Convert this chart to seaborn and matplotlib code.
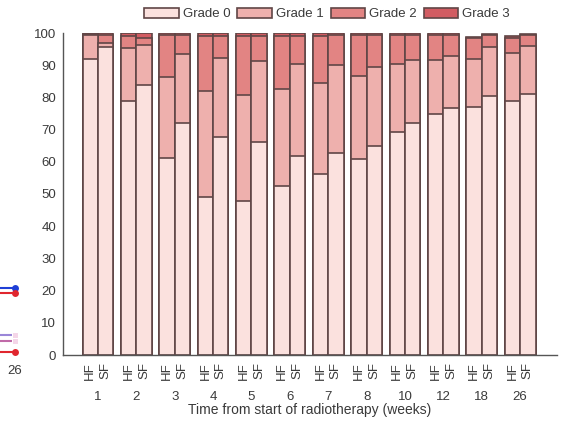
import matplotlib
matplotlib.use("Agg")
import matplotlib.pyplot as plt
import pandas as pd
import seaborn as sns
from matplotlib.patches import Patch

# Weeks from start of radiotherapy and treatment arms
weeks = ["1", "2", "3", "4", "5", "6", "7", "8", "10", "12", "18", "26"]
arms = ["HF", "SF"]
grades = ["Grade 0", "Grade 1", "Grade 2", "Grade 3"]

# Percentage of patients at each toxicity grade, hypofractionated arm
hf_g0 = [92.0, 79.0, 61.3, 49.2, 47.9, 52.4, 56.2, 60.8, 69.4, 74.7, 76.9, 78.8]
hf_g1 = [7.4, 16.2, 24.9, 32.8, 32.8, 30.1, 28.2, 26.0, 21.1, 17.0, 15.0, 15.1]
hf_g2 = [0.4, 3.8, 13.1, 17.2, 18.3, 16.7, 14.8, 12.5, 8.9, 7.7, 6.4, 4.7]
hf_g3 = [0.2, 1.0, 0.7, 0.8, 1.0, 0.8, 0.8, 0.7, 0.6, 0.6, 0.5, 0.5]

# Percentage of patients at each toxicity grade, standard fractionation arm
sf_g0 = [95.7, 84.0, 72.0, 67.8, 66.0, 61.8, 62.8, 64.8, 72.1, 76.6, 80.3, 81.0]
sf_g1 = [1.1, 12.3, 21.5, 24.3, 25.4, 28.5, 27.4, 24.7, 19.5, 16.2, 15.5, 15.0]
sf_g2 = [2.6, 2.0, 5.8, 7.1, 7.8, 8.9, 9.1, 9.8, 7.8, 6.6, 3.5, 3.3]
sf_g3 = [0.6, 1.7, 0.7, 0.8, 0.8, 0.8, 0.7, 0.7, 0.6, 0.6, 0.5, 0.5]

# Companion panel (partly visible at the left edge): last time points
side_x = [17.0, 26.0]
side_blue = [20.8, 20.8]
side_red = [19.3, 19.3]
side_lav_a = [6.2, 6.2]
side_lav_b = [4.3, 4.3]
side_red_b = [0.9, 0.9]

grade_colors = ["#fbe1de", "#eeb0ad", "#e28483", "#d25c62"]
edge_color = "#604646"
text_color = "#3a3a3a"

rows = []
for arm, series in (("HF", (hf_g0, hf_g1, hf_g2, hf_g3)),
                    ("SF", (sf_g0, sf_g1, sf_g2, sf_g3))):
    for i, wk in enumerate(weeks):
        cum = 0.0
        for g, vals in zip(grades, series):
            cum += vals[i]
            rows.append({"week": wk, "arm": arm, "grade": g, "cum": cum})
df = pd.DataFrame(rows)

sns.set_theme(style="white")
plt.rcParams["font.family"] = ["Liberation Sans", "DejaVu Sans"]
plt.rcParams["font.size"] = 9.5

W, H = 564, 424
fig = plt.figure(figsize=(W / 100, H / 100), dpi=100)
ax = fig.add_axes([63 / W, (H - 355) / H, 494 / W, 322 / H])

# Stacked bars: draw cumulative totals from the top grade down
for g, color in zip(grades[::-1], grade_colors[::-1]):
    sub = df[df["grade"] == g]
    sns.barplot(data=sub, x="week", y="cum", hue="arm", order=weeks,
                hue_order=arms, palette={"HF": color, "SF": color},
                dodge=True, width=0.8, saturation=1, errorbar=None,
                edgecolor=edge_color, linewidth=1.2, legend=False, ax=ax)

ax.set_xlim(-0.91, 11.96)
ax.set_ylim(0, 100)
ax.set_yticks(range(0, 101, 10))
ax.tick_params(axis="y", direction="in", length=4, width=1,
               color="#555555", labelcolor=text_color, labelsize=9.5, pad=5)

centers = list(range(len(weeks)))
bar_pos = [c + d for c in centers for d in (-0.2, 0.2)]
ax.set_xticks(bar_pos)
ax.set_xticklabels([a for _ in weeks for a in arms], rotation=90)
ax.set_xticks(centers, minor=True)
ax.set_xticklabels(weeks, minor=True)
ax.tick_params(axis="x", which="major", length=0, pad=5,
               labelcolor=text_color, labelsize=9.5)
ax.tick_params(axis="x", which="minor", length=0, pad=26,
               labelcolor=text_color, labelsize=9.5)
ax.set_xlabel("Time from start of radiotherapy (weeks)", color=text_color,
              fontsize=10, labelpad=0)
ax.set_ylabel("")

for side in ("top", "right"):
    ax.spines[side].set_visible(False)
for side in ("left", "bottom"):
    ax.spines[side].set_color("#555555")
    ax.spines[side].set_linewidth(1.0)

handles = [Patch(facecolor=c, edgecolor=edge_color, linewidth=1.2)
           for c in grade_colors]
fig.legend(handles, grades, loc="center", bbox_to_anchor=(327 / W, 1 - 14 / H),
           ncol=4, frameon=False, fontsize=9.5, handlelength=2.6,
           handleheight=0.85, handletextpad=0.3, columnspacing=0.55,
           labelcolor=text_color)

# Right end of the neighbouring line panel
ax2 = fig.add_axes([-40 / W, (H - 355) / H, 62 / W, 322 / H])
ax2.patch.set_alpha(0)
sns.lineplot(x=side_x, y=side_blue, color="#1f3fd6", marker="o",
             markersize=5, markeredgewidth=0, ax=ax2)
sns.lineplot(x=side_x, y=side_red, color="#e0262e", marker="o",
             markersize=5, markeredgewidth=0, ax=ax2)
sns.lineplot(x=side_x, y=side_lav_a, color="#9a86d8", marker="s",
             markersize=5, markerfacecolor="#f4d6e8", ax=ax2)
sns.lineplot(x=side_x, y=side_lav_b, color="#c06aa8", marker="s",
             markersize=5, markerfacecolor="#f4d6e8", ax=ax2)
sns.lineplot(x=side_x, y=side_red_b, color="#e0262e", marker="o",
             markersize=5, markeredgewidth=0, ax=ax2)
ax2.set_xlim(17.9, 27.0)
ax2.set_ylim(0, 100)
ax2.set_xticks([26])
ax2.set_xticklabels(["26"])
ax2.set_yticks([])
ax2.tick_params(axis="x", length=0, pad=7, labelcolor=text_color,
                labelsize=9.5)
for s in ax2.spines.values():
    s.set_visible(False)

fig.savefig("out.png", dpi=100)
